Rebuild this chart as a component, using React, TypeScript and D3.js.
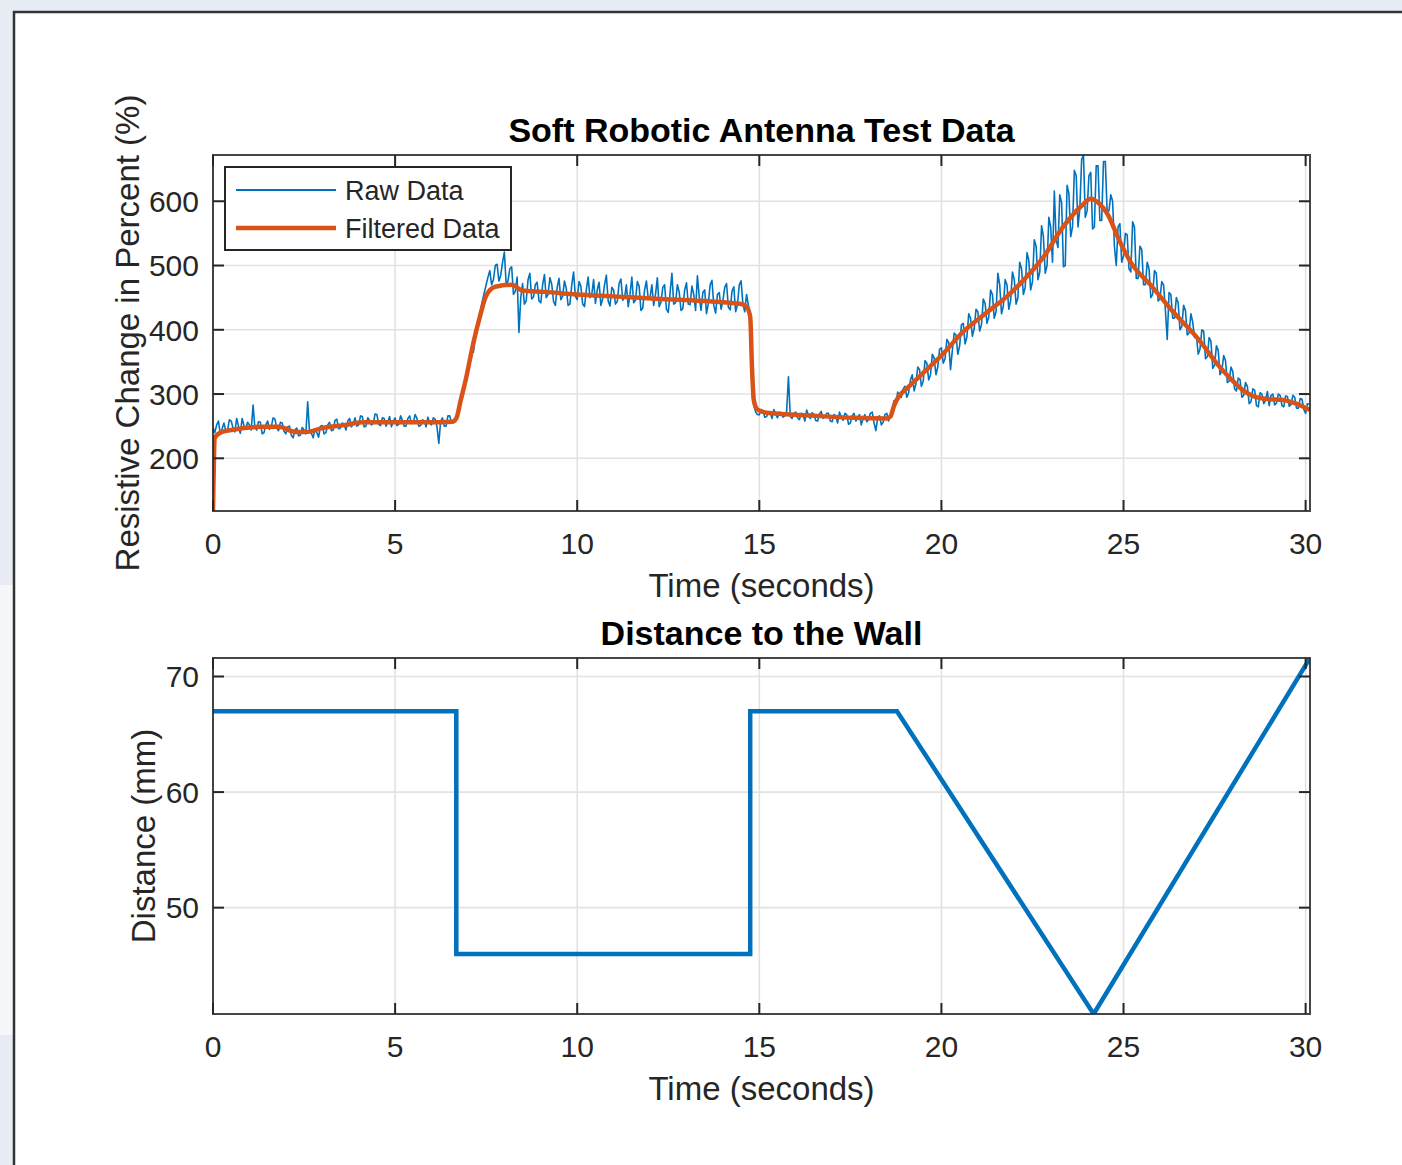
import React from 'react';
import * as d3 from 'd3';

// ---------------- data ----------------
const xTicks = [0, 5, 10, 15, 20, 25, 30];
const topYTicks = [200, 300, 400, 500, 600];
const bottomYTicks = [50, 60, 70];
const xDomain = [0, 30.12];
const topYDomain = [118, 672];
const bottomYDomain = [40.8, 71.6];

const rawDt = 0.05; // sampling interval of the raw series (s)
const rawValues = [
  248, 240, 252, 258, 238, 246, 255, 243, 244, 260, 258, 247, 241, 262, 250, 239, 262, 251, 246, 256,
  252, 244, 283, 248, 244, 257, 256, 238, 240, 252, 258, 245, 249, 263, 261, 247, 243, 256, 255, 242,
  238, 249, 250, 236, 232, 244, 247, 235, 236, 248, 244, 238, 288, 241, 239, 232, 246, 240, 233, 250,
  251, 238, 240, 252, 256, 243, 244, 259, 261, 246, 247, 255, 253, 244, 258, 262, 249, 253, 263, 250,
  252, 266, 265, 249, 250, 263, 259, 252, 254, 269, 268, 253, 251, 263, 262, 250, 257, 265, 249, 258,
  263, 251, 253, 266, 259, 250, 250, 262, 266, 254, 256, 268, 262, 250, 251, 260, 258, 249, 264, 255,
  252, 263, 261, 249, 223, 258, 263, 250, 250, 266, 266, 255, 256, 262, 264, 275, 292, 305, 312, 328,
  335, 350, 372, 365, 388, 402, 420, 432, 446, 458, 470, 482, 492, 470, 478, 500, 502, 476, 485, 505,
  521, 470, 476, 495, 498, 455, 460, 482, 396, 450, 472, 440, 445, 478, 488, 448, 451, 470, 474, 445,
  442, 470, 486, 450, 455, 481, 471, 444, 438, 466, 480, 447, 452, 476, 464, 438, 440, 470, 490, 452,
  447, 475, 468, 440, 436, 462, 482, 450, 455, 478, 441, 462, 474, 438, 448, 470, 485, 445, 437, 466,
  462, 440, 444, 472, 479, 446, 450, 470, 436, 455, 482, 442, 446, 475, 468, 430, 434, 462, 476, 448,
  451, 470, 438, 455, 481, 436, 443, 466, 470, 432, 427, 458, 488, 440, 442, 470, 459, 430, 433, 462,
  473, 440, 439, 468, 455, 430, 484, 452, 430, 458, 462, 425, 441, 470, 477, 438, 426, 455, 458, 432,
  445, 466, 472, 435, 431, 460, 467, 428, 439, 470, 476, 440, 428, 455, 438, 425, 300, 282, 272, 268,
  268, 276, 274, 264, 265, 272, 271, 262, 276, 268, 263, 272, 270, 264, 266, 273, 327, 265, 262, 270,
  272, 263, 260, 270, 269, 258, 275, 266, 262, 271, 268, 259, 258, 269, 273, 262, 264, 270, 270, 258,
  257, 268, 266, 255, 272, 264, 259, 270, 268, 253, 255, 266, 270, 258, 263, 268, 252, 262, 268, 257,
  260, 270, 272, 255, 243, 263, 266, 252, 256, 268, 270, 258, 268, 276, 290, 285, 303, 296, 295, 308,
  312, 295, 302, 322, 330, 305, 316, 342, 338, 312, 320, 352, 348, 322, 330, 362, 356, 330, 342, 370,
  372, 348, 355, 385, 380, 338, 368, 395, 392, 362, 375, 408, 410, 378, 389, 425, 418, 390, 402, 432,
  428, 398, 408, 448, 441, 410, 420, 462, 455, 418, 428, 488, 470, 425, 437, 478, 470, 432, 445, 490,
  478, 440, 450, 505, 495, 455, 466, 520, 508, 462, 475, 540, 530, 478, 490, 562, 545, 488, 500, 575,
  560, 505, 616, 540, 528, 610, 598, 498, 500, 625, 612, 545, 560, 648, 640, 560, 588, 665, 672, 575,
  585, 640, 645, 557, 560, 655, 655, 570, 570, 662, 662, 585, 585, 610, 600, 530, 500, 560, 565, 505,
  515, 550, 548, 495, 490, 568, 560, 480, 480, 530, 525, 470, 470, 505, 495, 450, 455, 492, 488, 445,
  448, 475, 470, 430, 385, 458, 455, 418, 418, 450, 442, 400, 405, 438, 430, 392, 395, 425, 412, 388,
  392, 362, 370, 400, 398, 355, 358, 388, 382, 340, 345, 375, 368, 330, 336, 360, 352, 318, 320, 342,
  335, 308, 305, 325, 322, 295, 298, 318, 312, 285, 288, 308, 306, 282, 280, 302, 300, 285, 290, 304,
  282, 298, 300, 283, 286, 300, 298, 282, 280, 297, 296, 281, 284, 298, 295, 278, 278, 293, 292, 276,
  270, 285, 284,
];

const filteredTime = [
  0, 0.05, 0.2, 0.5, 1.3, 1.8, 2.27, 2.55, 3.0, 3.65,
  4.1, 5.0, 5.95, 6.58, 6.68, 6.8, 6.95, 7.15, 7.33, 7.5,
  7.75, 8.2, 8.5, 9.1, 10.0, 11.0, 12.3, 13.7, 14.5, 14.65,
  14.75, 14.8, 14.85, 14.95, 15.2, 16.3, 17.6, 18.5, 18.6, 18.7,
  18.85, 19.0, 19.5, 20.0, 20.6, 21.2, 21.8, 22.3, 22.8, 23.3,
  23.85, 24.1, 24.3, 24.58, 24.86, 25.2, 25.77, 26.3, 27.06, 27.6,
  27.97, 28.3, 28.6, 29.0, 29.34, 29.7, 30.12,
];
const filteredValues = [
  118, 232, 240, 244, 249, 249, 241, 241, 247, 252,
  256, 256, 256, 257, 262, 290, 325, 380, 421, 453,
  467, 470, 461, 459, 455, 452, 448, 444, 440, 436,
  420, 340, 290, 276, 271, 267, 263, 262, 265, 282,
  298, 306, 333, 360, 397, 425, 452, 480, 513, 557,
  593, 604, 598, 578, 542, 505, 468, 432, 385, 345,
  322, 305, 296, 292, 291, 286, 275,
];

const distanceTime = [0, 6.68, 6.68, 14.75, 14.75, 18.78, 24.18, 30.12];
const distanceValues = [67, 67, 46, 46, 67, 67, 40.8, 71.6];

const legendLabels = ['Raw Data', 'Filtered Data'];

// ---------------- style ----------------
const FONT = "'Liberation Sans', Arial, Helvetica, sans-serif";
const BLUE = '#0072BD';
const ORANGE = '#D95319';
const AX = '#262626';
const GRID = '#e2e2e2';

type Box = { left: number; right: number; top: number; bottom: number };

const topBox: Box = { left: 213, right: 1310, top: 155, bottom: 511 };
const bottomBox: Box = { left: 213, right: 1310, top: 658, bottom: 1014 };

function Axes(props: {
  id: string;
  box: Box;
  yDomain: number[];
  yTicks: number[];
  title: string;
  ylabel: string;
  ylabelX: number;
  children: (x: d3.ScaleLinear<number, number>, y: d3.ScaleLinear<number, number>) => React.ReactNode;
}) {
  const { box, yDomain, yTicks, title, ylabel, ylabelX, id } = props;
  const x = d3.scaleLinear().domain(xDomain).range([box.left, box.right]);
  const y = d3.scaleLinear().domain(yDomain).range([box.bottom, box.top]);
  const tl = 11;
  const cx = (box.left + box.right) / 2;
  return (
    <g>
      <defs>
        <clipPath id={id}>
          <rect x={box.left} y={box.top} width={box.right - box.left} height={box.bottom - box.top} />
        </clipPath>
      </defs>
      <rect x={box.left} y={box.top} width={box.right - box.left} height={box.bottom - box.top} fill="#fff" />
      {xTicks.map((t) => (
        <line key={'gx' + t} x1={x(t)} x2={x(t)} y1={box.top} y2={box.bottom} stroke={GRID} strokeWidth={1.6} />
      ))}
      {yTicks.map((t) => (
        <line key={'gy' + t} x1={box.left} x2={box.right} y1={y(t)} y2={y(t)} stroke={GRID} strokeWidth={1.6} />
      ))}
      <g clipPath={`url(#${id})`}>{props.children(x, y)}</g>
      <rect x={box.left} y={box.top} width={box.right - box.left} height={box.bottom - box.top} fill="none" stroke={AX} strokeOpacity={0.85} strokeWidth={2} />
      {xTicks.map((t) => (
        <g key={'tx' + t}>
          <line x1={x(t)} x2={x(t)} y1={box.bottom} y2={box.bottom - tl} stroke={AX} strokeWidth={2} />
          <line x1={x(t)} x2={x(t)} y1={box.top} y2={box.top + tl} stroke={AX} strokeWidth={2} />
          <text x={x(t)} y={box.bottom + 43} textAnchor="middle" fontSize={30} fill={AX} fontFamily={FONT}>
            {t}
          </text>
        </g>
      ))}
      {yTicks.map((t) => (
        <g key={'ty' + t}>
          <line x1={box.left} x2={box.left + tl} y1={y(t)} y2={y(t)} stroke={AX} strokeWidth={2} />
          <line x1={box.right} x2={box.right - tl} y1={y(t)} y2={y(t)} stroke={AX} strokeWidth={2} />
          <text x={box.left - 14} y={y(t)} dy="0.36em" textAnchor="end" fontSize={30} fill={AX} fontFamily={FONT}>
            {t}
          </text>
        </g>
      ))}
      <text x={cx} y={box.bottom + 86} textAnchor="middle" fontSize={33} fill={AX} fontFamily={FONT}>
        Time (seconds)
      </text>
      <text x={cx} y={box.top - 13} textAnchor="middle" fontSize={34} fontWeight="bold" fill="#000" fontFamily={FONT}>
        {title}
      </text>
      <text
        transform={`translate(${ylabelX},${(box.top + box.bottom) / 2}) rotate(-90)`}
        textAnchor="middle"
        fontSize={33}
        fill={AX}
        fontFamily={FONT}
      >
        {ylabel}
      </text>
    </g>
  );
}

export default function App() {
  const rawPoints: [number, number][] = rawValues.map((v, i) => [i * rawDt, v]);
  const filteredPoints: [number, number][] = filteredTime.map((t, i) => [t, filteredValues[i]]);
  const distancePoints: [number, number][] = distanceTime.map((t, i) => [t, distanceValues[i]]);

  return (
    <svg width={1402} height={1165} style={{ position: 'absolute', left: 0, top: 0 }}>
      <rect x={0} y={0} width={1402} height={1165} fill="#e8ecf4" />
      <rect x={0} y={585} width={13} height={450} fill="#f6f7fb" />
      <rect x={14} y={12} width={1400} height={1170} fill="#fff" stroke="#333" strokeWidth={2.5} />

      <Axes
        id="clipTop"
        box={topBox}
        yDomain={topYDomain}
        yTicks={topYTicks}
        title="Soft Robotic Antenna Test Data"
        ylabel="Resistive Change in Percent (%)"
        ylabelX={139}
      >
        {(x, y) => {
          const line = d3.line<[number, number]>().x((d) => x(d[0])).y((d) => y(d[1]));
          const smooth = d3
            .line<[number, number]>()
            .x((d) => x(d[0]))
            .y((d) => y(d[1]))
            .curve(d3.curveMonotoneX);
          return (
            <g>
              <path d={line(rawPoints) || ''} fill="none" stroke={BLUE} strokeWidth={1.6} strokeLinejoin="round" />
              <path d={smooth(filteredPoints) || ''} fill="none" stroke={ORANGE} strokeWidth={4.5} strokeLinejoin="round" />
            </g>
          );
        }}
      </Axes>

      <g>
        <rect x={225} y={167} width={286} height={83} fill="#fff" stroke={AX} strokeWidth={2} />
        <line x1={236} x2={336} y1={190} y2={190} stroke={BLUE} strokeWidth={2} />
        <line x1={236} x2={336} y1={228} y2={228} stroke={ORANGE} strokeWidth={4.5} />
        <text x={345} y={190} dy="0.36em" fontSize={27} fill={AX} fontFamily={FONT}>
          {legendLabels[0]}
        </text>
        <text x={345} y={228} dy="0.36em" fontSize={27} fill={AX} fontFamily={FONT}>
          {legendLabels[1]}
        </text>
      </g>

      <Axes
        id="clipBottom"
        box={bottomBox}
        yDomain={bottomYDomain}
        yTicks={bottomYTicks}
        title="Distance to the Wall"
        ylabel="Distance (mm)"
        ylabelX={155}
      >
        {(x, y) => {
          const line = d3.line<[number, number]>().x((d) => x(d[0])).y((d) => y(d[1]));
          return <path d={line(distancePoints) || ''} fill="none" stroke={BLUE} strokeWidth={4.5} strokeLinejoin="miter" />;
        }}
      </Axes>
    </svg>
  );
}
